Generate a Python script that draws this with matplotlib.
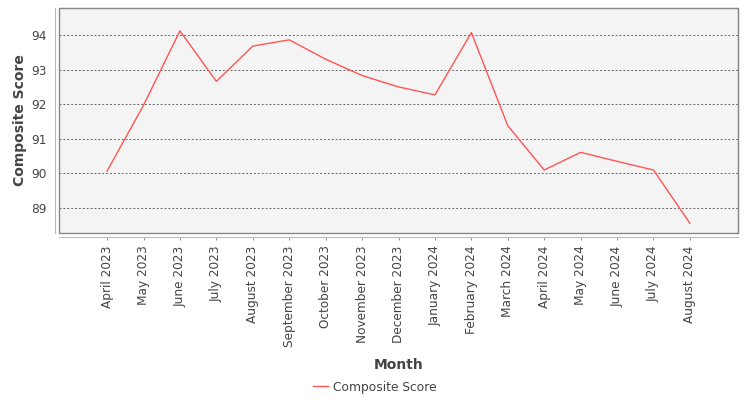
import matplotlib
matplotlib.use("Agg")
import matplotlib.pyplot as plt
from matplotlib.patches import Rectangle

months = ["April 2023", "May 2023", "June 2023", "July 2023", "August 2023",
          "September 2023", "October 2023", "November 2023", "December 2023",
          "January 2024", "February 2024", "March 2024", "April 2024",
          "May 2024", "June 2024", "July 2024", "August 2024"]
scores = [90.07, 91.97, 94.12, 92.66, 93.68, 93.86, 93.30, 92.83, 92.50,
          92.27, 94.07, 91.38, 90.10, 90.61, 90.35, 90.10, 88.56]
y_ticks = [89, 90, 91, 92, 93, 94]

text_col = "#444444"

fig = plt.figure(figsize=(7.5, 4), dpi=100)
ax = fig.add_axes([59 / 750, 1 - 233 / 400, 679 / 750, 225 / 400])
ax.set_facecolor("#f4f4f4")

x = range(len(months))
ax.plot(x, scores, color="#ff5555", lw=1, label="Composite Score")

ax.set_xlim(-1.32, len(months) - 1 + 1.32)
ax.set_ylim(88.28, 94.78)
ax.set_yticks(y_ticks)
ax.set_xticks(list(x))
ax.set_xticklabels(months)
ax.tick_params(axis="both", colors="#999999", labelcolor=text_col,
               labelsize=8.7, width=0.8)
ax.tick_params(axis="x", labelrotation=90, length=2, pad=4)
ax.tick_params(axis="y", length=0, pad=6)
ax.yaxis.grid(True, linestyle=(0, (2, 2)), color="#666666", lw=0.7)

# outline of plot area
for s in ["top", "right"]:
    ax.spines[s].set_color("#888888")
for s in ["left", "bottom"]:
    ax.spines[s].set_position(("outward", 3))
    ax.spines[s].set_color("#bbbbbb")
ax.add_patch(Rectangle((0, 0), 1, 1, transform=ax.transAxes, fill=False,
                       edgecolor="#888888", lw=1, clip_on=False, zorder=5))

ax.set_ylabel("Composite Score", fontsize=10, fontweight="bold",
              color=text_col, labelpad=3)
ax.set_xlabel("Month", fontsize=10, fontweight="bold", color=text_col,
              labelpad=8)

fig.legend(loc="center", bbox_to_anchor=(374.5 / 750, 1 - 387 / 400),
           frameon=False, fontsize=8.8, handlelength=1.3, handletextpad=0.35,
           labelcolor=text_col)

fig.savefig("out.png", dpi=100)
